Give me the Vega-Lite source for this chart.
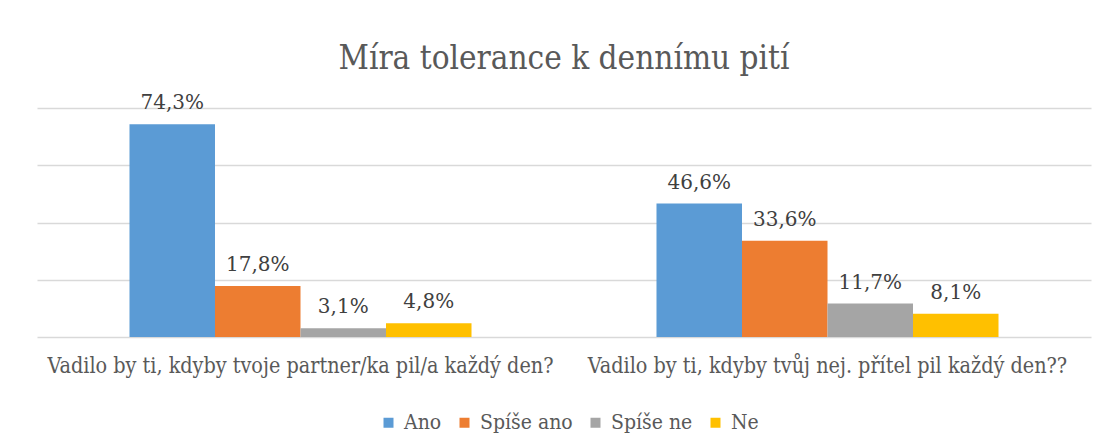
{
  "$schema": "https://vega.github.io/schema/vega-lite/v6.json",
  "autosize": {"type": "none"},
  "width": 1054,
  "height": 229,
  "padding": {"left": 37, "top": 108, "right": 16, "bottom": 109},
  "background": "white",
  "config": {
    "locale": {"number": {"decimal": ",", "thousands": " ", "grouping": [3], "currency": ["", " Kč"]}},
    "view": {"stroke": null}
  },
  "title": {
    "text": "Míra tolerance k dennímu pití",
    "fontSize": 33,
    "font": "DejaVu Serif Condensed",
    "fontWeight": "normal",
    "color": "#595959",
    "offset": 17,
    "anchor": "middle"
  },
  "data": {
    "values": [
      {"otazka": "Vadilo by ti, kdyby tvoje partner/ka pil/a každý den?", "odpoved": "Ano", "podil": 0.743},
      {"otazka": "Vadilo by ti, kdyby tvoje partner/ka pil/a každý den?", "odpoved": "Spíše ano", "podil": 0.178},
      {"otazka": "Vadilo by ti, kdyby tvoje partner/ka pil/a každý den?", "odpoved": "Spíše ne", "podil": 0.031},
      {"otazka": "Vadilo by ti, kdyby tvoje partner/ka pil/a každý den?", "odpoved": "Ne", "podil": 0.048},
      {"otazka": "Vadilo by ti, kdyby tvůj nej. přítel pil každý den??", "odpoved": "Ano", "podil": 0.466},
      {"otazka": "Vadilo by ti, kdyby tvůj nej. přítel pil každý den??", "odpoved": "Spíše ano", "podil": 0.336},
      {"otazka": "Vadilo by ti, kdyby tvůj nej. přítel pil každý den??", "odpoved": "Spíše ne", "podil": 0.117},
      {"otazka": "Vadilo by ti, kdyby tvůj nej. přítel pil každý den??", "odpoved": "Ne", "podil": 0.081}
    ]
  },
  "encoding": {
    "x": {
      "field": "otazka",
      "type": "nominal",
      "sort": null,
      "scale": {"paddingInner": 0.351, "paddingOuter": 0.1755},
      "axis": {
        "title": null,
        "labelAngle": 0,
        "labelFontSize": 21.4,
        "labelColor": "#595959",
        "labelFont": "DejaVu Serif Condensed",
        "ticks": false,
        "domain": false,
        "labelPadding": 18,
        "labelLimit": 700
      }
    },
    "xOffset": {"field": "odpoved", "type": "nominal", "sort": ["Ano", "Spíše ano", "Spíše ne", "Ne"]},
    "y": {
      "field": "podil",
      "type": "quantitative",
      "scale": {"domain": [0, 0.8]},
      "axis": {
        "title": null,
        "labels": false,
        "ticks": false,
        "domain": false,
        "values": [0, 0.2, 0.4, 0.6, 0.8],
        "gridColor": "#d9d9d9",
        "gridWidth": 1.3
      }
    }
  },
  "layer": [
    {
      "mark": {"type": "bar"},
      "encoding": {
        "color": {
          "field": "odpoved",
          "type": "nominal",
          "sort": ["Ano", "Spíše ano", "Spíše ne", "Ne"],
          "scale": {"domain": ["Ano", "Spíše ano", "Spíše ne", "Ne"], "range": ["#5B9BD5", "#ED7D31", "#A5A5A5", "#FFC000"]},
          "legend": {
            "orient": "none",
            "legendX": 341,
            "legendY": 304,
            "padding": 0,
            "direction": "horizontal",
            "title": null,
            "symbolType": "square",
            "symbolSize": 100,
            "symbolStrokeWidth": 0,
            "labelFontSize": 21,
            "labelColor": "#595959",
            "labelFont": "DejaVu Serif Condensed",
            "columnPadding": 12,
            "labelOffset": 5
          }
        }
      }
    },
    {
      "mark": {"type": "text", "baseline": "alphabetic", "dy": -15, "fontSize": 20, "color": "#404040", "font": "DejaVu Serif"},
      "encoding": {"text": {"field": "podil", "type": "quantitative", "format": ".1%"}}
    }
  ]
}
